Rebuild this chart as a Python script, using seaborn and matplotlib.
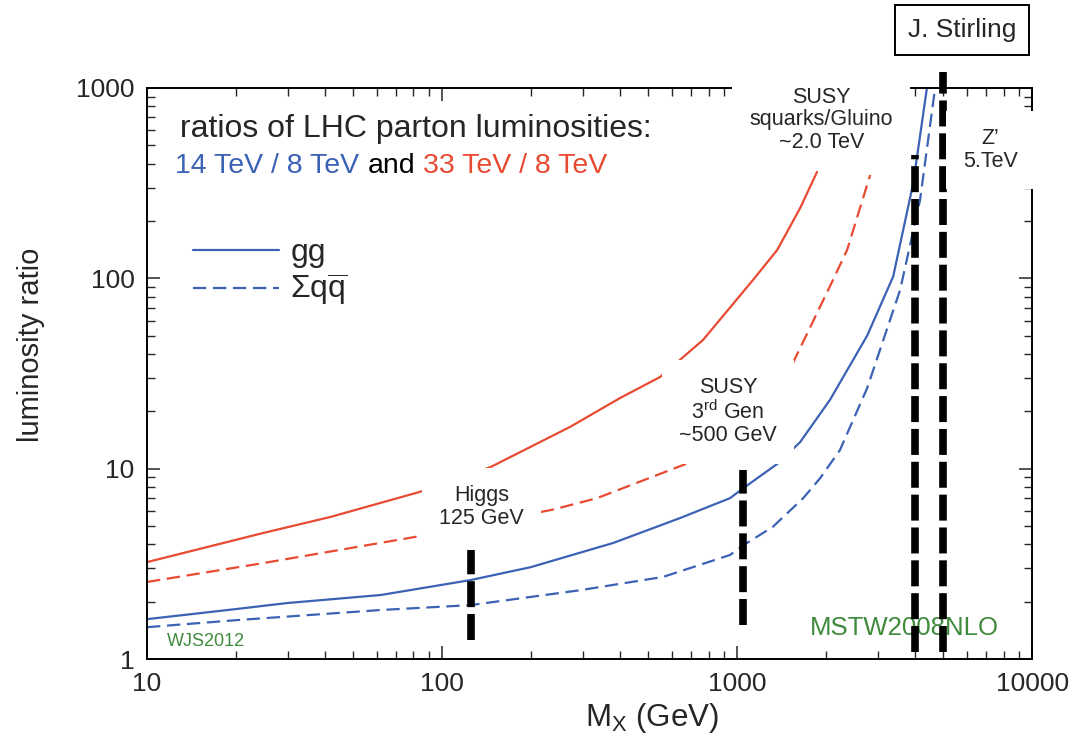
import matplotlib
matplotlib.use("Agg")
import matplotlib.pyplot as plt
import seaborn as sns
import pandas as pd
from matplotlib.lines import Line2D
from matplotlib.ticker import FixedLocator, FixedFormatter, NullFormatter

# parton luminosity ratios
gg14_mass = [10, 20, 30, 62, 125, 200, 380, 640, 946, 1050, 1380, 1636, 2065, 2760, 3380, 3955, 4400]
gg14_ratio = [1.62, 1.83, 1.97, 2.17, 2.60, 3.04, 4.07, 5.5, 7.0, 7.9, 10.7, 13.8, 23.0, 50, 102, 317, 1000]

qq14_mass = [10, 20, 62, 125, 294, 561, 946, 1080, 1320, 1675, 1910, 2230, 2760, 3570, 4170, 4690]
qq14_ratio = [1.47, 1.60, 1.81, 1.92, 2.30, 2.70, 3.52, 4.07, 4.94, 7.0, 8.9, 12.5, 26.5, 87, 258, 1000]

gg33_mass = [10, 24.7, 41.7, 84, 146, 272, 401, 548, 767, 1132, 1368, 1636, 1866]
gg33_ratio = [3.23, 4.59, 5.57, 7.55, 10.2, 16.6, 23.5, 30.3, 47.5, 98, 141, 234, 362]

qq33_mass = [10, 24.7, 81, 238, 335, 682, 1535, 1910, 2113, 2360, 2825]
qq33_ratio = [2.54, 3.19, 4.38, 6.1, 7.0, 10.7, 35.1, 70.8, 98, 141, 349]

# new-physics mass markers (vertical dashed bars)
marker_mass = [125, 1050, 4000, 5000]
marker_lo = [1.26, 1.51, 1.09, 1.09]
marker_hi = [3.74, 9.8, 445, 1216]

marker_labels = ["Higgs\n125 GeV", "SUSY\n3$^{\\rm rd}$ Gen\n~500 GeV",
                 "SUSY\nsquarks/Gluino\n~2.0 TeV", "Z\u2019\n5.TeV"]
label_mass = [136, 931, 1928, 7210]
label_ratio = [6.29, 19.9, 680, 473]

xtick_vals = [10, 100, 1000, 10000]
ytick_vals = [1, 10, 100, 1000]

sns.set_style("ticks")
plt.rcParams["font.family"] = ["Liberation Sans", "DejaVu Sans"]
plt.rcParams["mathtext.fontset"] = "custom"
plt.rcParams["mathtext.rm"] = "Liberation Sans"
plt.rcParams["mathtext.it"] = "Liberation Sans:italic"
plt.rcParams["mathtext.bf"] = "Liberation Sans:bold"

BLUE = "#3b62b4"
RED = "#e84a32"
GREEN = "#3f8a3c"

frames = []
for m, r, en, ch in [(gg14_mass, gg14_ratio, "14/8", "gg"),
                     (qq14_mass, qq14_ratio, "14/8", "qq"),
                     (gg33_mass, gg33_ratio, "33/8", "gg"),
                     (qq33_mass, qq33_ratio, "33/8", "qq")]:
    frames.append(pd.DataFrame({"mass": m, "ratio": r, "energy": en, "channel": ch}))
df = pd.concat(frames, ignore_index=True)

fig = plt.figure(figsize=(10.9, 7.43), dpi=100)
ax = fig.add_axes([0.1349, 0.113, 0.812, 0.7686])
ax.set_xscale("log")
ax.set_yscale("log")

sns.lineplot(data=df, x="mass", y="ratio", hue="energy", style="channel",
             palette={"14/8": BLUE, "33/8": RED}, dashes={"gg": "", "qq": (6, 3)},
             estimator=None, lw=1.6, legend=False, ax=ax, zorder=2)

ax.vlines(marker_mass, marker_lo, marker_hi, colors="black", lw=5.5,
          linestyles=[(0, (3.4, 0.9))], zorder=2.2, clip_on=False)

ax.set_xlim(10, 10000)
ax.set_ylim(1, 1000)

# ticks
ax.xaxis.set_major_locator(FixedLocator(xtick_vals))
ax.xaxis.set_major_formatter(FixedFormatter([str(v) for v in xtick_vals]))
ax.yaxis.set_major_locator(FixedLocator(ytick_vals))
ax.yaxis.set_major_formatter(FixedFormatter([str(v) for v in ytick_vals]))
ax.xaxis.set_minor_formatter(NullFormatter())
ax.yaxis.set_minor_formatter(NullFormatter())
ax.tick_params(which="both", direction="in", top=True, right=True, labelsize=19, pad=9)
ax.tick_params(which="major", length=9.5, width=1.1)
ax.tick_params(which="minor", length=5.5, width=1.0)
for sp in ax.spines.values():
    sp.set_linewidth(1.4)
    sp.set_color("black")

ax.set_xlabel(r"M$_{\rm X}$ (GeV)", fontsize=22.5)
ax.set_ylabel("luminosity ratio", fontsize=21)
ax.xaxis.set_label_coords(0.57, -0.103)
ax.xaxis.label.set_va("center")
ax.yaxis.set_label_coords(-0.131, 0.55)
ax.yaxis.label.set_va("center")

# header text
ax.text(0.0373, 0.914, "ratios of LHC parton luminosities:", transform=ax.transAxes,
        fontsize=23, va="baseline", ha="left")
t1 = ax.text(0.0316, 0.851, "14 TeV / 8 TeV", transform=ax.transAxes,
             fontsize=20.5, va="baseline", ha="left", color=BLUE)
t2 = ax.annotate("and", xy=(1, 0), xycoords=t1, xytext=(6, 0), textcoords="offset points",
                 fontsize=20.5, va="bottom", ha="left", color="black")
ax.annotate("33 TeV / 8 TeV", xy=(1, 0), xycoords=t2, xytext=(6, 0), textcoords="offset points",
            fontsize=20.5, va="bottom", ha="left", color=RED)

# legend
handles = [Line2D([], [], color=BLUE, lw=1.6),
           Line2D([], [], color=BLUE, lw=1.6, dashes=(6, 3))]
ax.legend(handles, ["gg", r"$\Sigma\mathrm{q}\overline{\mathrm{q}}$"], loc="upper left",
          bbox_to_anchor=(0.052, 0.737), frameon=False, fontsize=23, handlelength=2.7,
          handletextpad=0.35, labelspacing=0.12, borderaxespad=0, borderpad=0)

# marker labels with white boxes (they hide the curves behind them)
for lab, mx, ry in zip(marker_labels, label_mass, label_ratio):
    ax.text(mx, ry, lab, fontsize=15.5, ha="center", va="center", linespacing=1.1,
            zorder=4, clip_on=False,
            bbox=dict(boxstyle="square,pad=0.8", facecolor="white", edgecolor="none"))

ax.text(11.7, 1.23, "WJS2012", fontsize=13, color=GREEN, ha="left", va="center", zorder=1)
ax.text(1766, 1.456, "MSTW2008NLO", fontsize=18.5, color=GREEN, ha="left", va="center", zorder=1)

fig.text(0.8826, 0.9596, "J. Stirling", fontsize=19, ha="center", va="center",
         bbox=dict(boxstyle="square,pad=0.5", facecolor="white", edgecolor="black", lw=1.4))

fig.savefig("out.png", dpi=100)
